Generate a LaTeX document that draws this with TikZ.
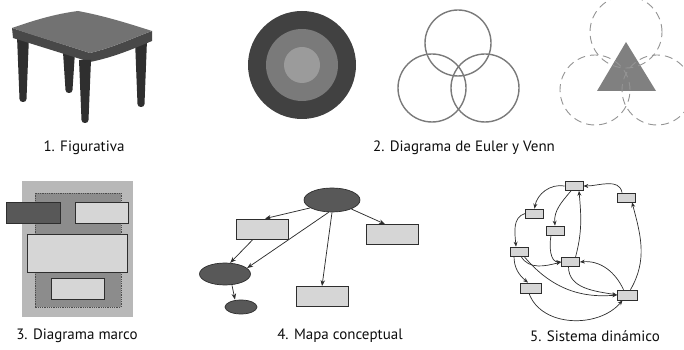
\documentclass[tikz,border=0pt]{standalone}
\usepackage{fontspec}
\setmainfont{PT Sans}
\usetikzlibrary{arrows.meta,shapes.geometric}

\definecolor{tabletop}{HTML}{727272}
\definecolor{tableside}{HTML}{484848}
\definecolor{tableleg}{HTML}{2F2F2F}
\definecolor{ringA}{HTML}{414141}
\definecolor{ringB}{HTML}{7A7A7A}
\definecolor{ringC}{HTML}{9B9B9B}
\definecolor{lightbox}{HTML}{D6D6D6}
\definecolor{darkfill}{HTML}{585858}
\definecolor{edge}{HTML}{2E2E2E}

\tikzset{
  caption/.style={font=\fontsize{15}{17}\selectfont, text=black!95},
  leg/.style={fill=tableleg},
  venn/.style={draw=ringB, line width=1.4pt},
  dashcircle/.style={draw=black!42, line width=0.9pt, dash pattern=on 8pt off 5pt},
  framebox/.style={draw=edge, line width=0.8pt, fill=lightbox},
  concept/.style={ellipse, draw=edge, fill=darkfill, line width=0.7pt, inner sep=0pt},
  topic/.style={rectangle, draw=edge, fill=lightbox, line width=0.8pt, inner sep=0pt,
    minimum width=52pt, minimum height=20pt},
  link/.style={draw=edge, line width=0.75pt, -{Stealth[length=6pt,width=4.5pt]}},
  state/.style={rectangle, draw=edge, fill=lightbox, line width=0.7pt, inner sep=0pt,
    minimum width=18pt, minimum height=9pt},
  flow/.style={draw=edge, line width=0.7pt, -{Stealth[length=5pt,width=4pt]}},
}

% pata de la mesa: x, y arriba, y abajo
\newcommand{\tableleg}[3]{%
  \fill[leg] (#1-6,#2) -- (#1+6,#2) -- (#1+3.5,#3+3)
    .. controls (#1+3.5,#3-1) and (#1-3.5,#3-1) .. (#1-3.5,#3+3) -- cycle;}

\begin{document}
\begin{tikzpicture}[x=1pt,y=1pt]
    \useasboundingbox (0,0) rectangle (684,350);
    %Mesa
        \tableleg{23}{314}{248}
        \tableleg{69}{298}{257}
        \tableleg{141}{310}{243}
        \fill[tableside] (12,322) -- (90,297) -- (90,288) -- (13,312) -- cycle;
        \fill[tableside] (90,297) .. controls (115,303) and (135,313) .. (152,319)
            -- (152,309) .. controls (135,302) and (115,293) .. (90,288) -- cycle;
        \tableleg{85}{290}{227}
        \fill[tabletop] (12,322) .. controls (35,330) and (55,336) .. (78,339)
            .. controls (105,334) and (130,326) .. (152,319)
            .. controls (135,313) and (115,303) .. (90,297)
            .. controls (62,306) and (35,314) .. (12,322) -- cycle;
        \node[caption] (cap1) at (84,202) {1. Figurativa};
    %Circulos concentricos
        \fill[ringA] (302,285) circle (54pt);
        \fill[ringB] (302,285) circle (36pt);
        \fill[ringC] (302,285) circle (18pt);
    %Venn
        \draw[venn] (458,307) circle (33pt);
        \draw[venn] (432,262) circle (34pt);
        \draw[venn] (485,262) circle (34pt);
    %Triangulo y circulos punteados
        \fill[black!50] (626,308) -- (597,259) -- (656,259) -- cycle;
        \draw[dashcircle] (626,318) circle (36pt);
        \draw[dashcircle] (595,260) circle (35pt);
        \draw[dashcircle] (657,260) circle (35pt);
        \node[caption] (cap2) at (464,202) {2. Diagrama de Euler y Venn};
    %Diagrama marco
        \fill[black!28] (22,33) rectangle (133,169);
        \filldraw[fill=black!45, draw=black!70, densely dotted, line width=0.8pt]
            (35,43) rectangle (121,157);
        \filldraw[framebox, fill=darkfill] (6,127) rectangle (60,148);
        \filldraw[framebox] (75,127) rectangle (128,148);
        \filldraw[framebox] (27,78) rectangle (127,116);
        \filldraw[framebox] (51,51) rectangle (104,72);
        \node[caption] (cap3) at (77,14) {3. Diagrama marco};
    %Mapa conceptual
        \node[concept, minimum width=56pt, minimum height=24pt] (hub) at (332,150) {};
        \node[topic] (boxA) at (262,121) {};
        \node[topic] (boxB) at (392,115.5) {};
        \node[topic] (boxC) at (322,53.5) {};
        \node[concept, minimum width=51pt, minimum height=22pt] (sub) at (225,76) {};
        \node[concept, minimum width=32pt, minimum height=14pt] (leaf) at (241,43) {};
        \draw[link] (hub.200) -- ([xshift=3pt]boxA.north);
        \draw[link] (hub.-25) -- ([xshift=-7pt]boxB.north);
        \draw[link] (hub.south) -- (boxC.north);
        \draw[link] (hub.255) -- (sub.15);
        \draw[link] ([xshift=-9pt]boxA.south) -- (sub.65);
        \draw[link] ([xshift=7pt]sub.south) -- ([xshift=-6pt]leaf.north);
        \node[caption] (cap4) at (340,14) {4. Mapa conceptual};
    %Sistema dinamico
        \node[state] (n1) at (574,164) {};
        \node[state] (n2) at (626,152.5) {};
        \node[state] (n3) at (534.5,136.5) {};
        \node[state] (n4) at (555,119.5) {};
        \node[state] (n5) at (519,98.5) {};
        \node[state] (n6) at (570.5,88) {};
        \node[state, minimum width=21pt, minimum height=10pt] (n7) at (531,62) {};
        \node[state, minimum width=20pt, minimum height=10pt] (n8) at (627.5,55) {};
        \draw[flow] (n1.west) to[out=170,in=80] (n3.north);
        \draw[flow] ([xshift=-4pt]n2.north) to[out=100,in=0] (n1.east);
        \draw[flow] ([xshift=-3pt]n1.south) to[out=230,in=95] (n4.north);
        \draw[flow] ([xshift=5pt]n6.north) to[out=75,in=-85] ([xshift=5pt]n1.south);
        \draw[flow] (n3.west) to[out=195,in=95] ([xshift=-3pt]n5.north);
        \draw[flow] ([xshift=-4pt]n4.south) to[out=-100,in=180] (n6.west);
        \draw[flow] ([xshift=2pt]n5.south) to[out=-60,in=195] (n6.west);
        \draw[flow] ([xshift=-5pt]n5.south) to[out=-90,in=140] ([xshift=-3pt]n7.north);
        \draw[flow] ([xshift=5pt]n5.south) to[out=-50,in=185] (n8.west);
        \draw[flow] ([xshift=-2pt]n6.south) to[out=-90,in=170] (n8.west);
        \draw[flow] ([xshift=-4pt]n8.north) to[out=115,in=5] (n6.east);
        \draw[flow] ([xshift=3pt]n8.north) to[out=60,in=-75] ([xshift=6pt]n2.south);
        \draw[flow] ([xshift=-2pt]n7.south) to[out=-70,in=-130] ([xshift=-5pt]n8.south);
        \node[caption] (cap5) at (595,14) {5. Sistema dinámico};
\end{tikzpicture}
\end{document}
